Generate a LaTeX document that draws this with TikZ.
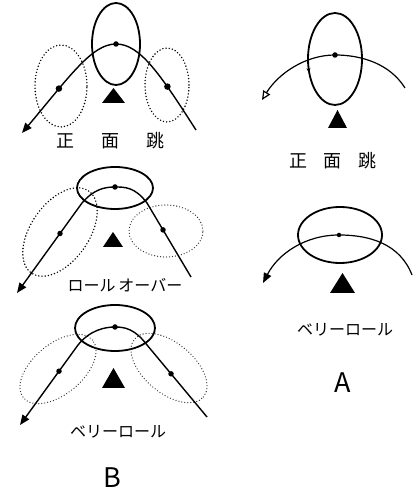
\documentclass[tikz,border=0pt]{standalone}
\usepackage{fontspec}
\newfontfamily\jpfont{Noto Sans CJK JP}
\usetikzlibrary{arrows.meta, decorations.markings}

\begin{document}
\begin{tikzpicture}[x=1pt, y=1pt,
    solidloop/.style={draw, line width=1.8pt},
    dotloop/.style={draw, line width=1.6pt, line cap=round, dash pattern=on 0pt off 3.2pt},
    faintloop/.style={draw, line width=1.3pt, line cap=round, dash pattern=on 0pt off 3pt, black!80},
    jump/.style={line width=1.4pt},
    pit/.style={circle, fill, inner sep=0pt, minimum size=5.5pt},
    jplabel/.style={font=\jpfont\fontsize{16}{16}\selectfont},
    kanji/.style={font=\jpfont\fontsize{18}{18}\selectfont},
    tag/.style={font=\jpfont\fontsize{27}{27}\selectfont},
    headfill/.style={-{Triangle[length=10pt, width=8pt]}},
    headopen/.style={-{Triangle[open, length=9pt, width=8pt, line width=1.2pt]}}]
    \useasboundingbox (0,0) rectangle (419,494);

    % B: 正面跳
    \draw[solidloop] (116,450) ellipse [x radius=24pt, y radius=41pt];
    \draw[dotloop] (61,408) ellipse [x radius=26pt, y radius=41pt];
    \draw[dotloop] (167,409) ellipse [x radius=22pt, y radius=37pt];
    \fill (102,391) -- (125,391) -- (113.5,406) -- cycle;
    \coordinate (p1s) at (196,364);
    \coordinate (p1e) at (22,361);
    \node[pit] (p1top) at (116,450) {};
    \node[pit, minimum size=6.5pt] (p1r) at (167.4,407.4) {};
    \node[pit, minimum size=6.5pt] (p1l) at (58.9,405.4) {};
    \draw[jump, headfill] (p1s) .. controls (160,420) and (140,450) .. (p1top.center)
        .. controls (92,450) and (70,418) .. (p1e);
    \node[kanji] (t1) at (110,353) {正\hspace{1.5em}面\hspace{1.5em}跳};

    % B: ロールオーバー
    \draw[solidloop] (115,306) ellipse [x radius=38pt, y radius=21pt];
    \draw[dotloop, rotate around={55:(60,262)}] (60,262) ellipse [x radius=50pt, y radius=29pt];
    \draw[faintloop] (166,263) ellipse [x radius=37pt, y radius=26pt];
    \fill (103,247) -- (123,247) -- (113,262) -- cycle;
    \coordinate (p2s) at (191,217);
    \coordinate (p2rb) at (147,291);
    \coordinate (p2lb) at (82,291);
    \coordinate (p2e) at (17,201);
    \node[pit] (p2top) at (115,307) {};
    \node[pit] (p2r) at (163,264.1) {};
    \node[pit] (p2l) at (60,260.5) {};
    \draw[jump, headfill] (p2s) -- (p2rb) .. controls (135,307) and (125,307) .. (p2top.center)
        .. controls (105,307) and (94,305) .. (p2lb) -- (p2e);
    \node[jplabel] (t2) at (125,209) {ロール\,オーバー};

    % B: ベリーロール
    \draw[solidloop] (115,166) ellipse [x radius=40pt, y radius=23pt];
    \draw[faintloop, rotate around={40:(58,125)}] (58,125) ellipse [x radius=45pt, y radius=25pt];
    \draw[faintloop, rotate around={-40:(169,126)}] (169,126) ellipse [x radius=45pt, y radius=25pt];
    \fill (102,106) -- (125,106) -- (113.5,126) -- cycle;
    \coordinate (p3s) at (207,77);
    \coordinate (p3rb) at (147,149);
    \coordinate (p3lb) at (78,149);
    \coordinate (p3e) at (20,69);
    \node[pit] (p3top) at (115,167) {};
    \node[pit] (p3r) at (171,120.2) {};
    \node[pit] (p3l) at (59,122.8) {};
    \draw[jump, headfill] (p3s) -- (p3rb) .. controls (135,165) and (125,167) .. (p3top.center)
        .. controls (105,167) and (90,164) .. (p3lb) -- (p3e);
    \node[jplabel] (t3) at (118,62) {ベリーロール};
    \node[tag] (tB) at (112,16) {B};

    % A: 正面跳
    \draw[solidloop, postaction={decorate, decoration={markings,
        mark=at position 0.56 with {\arrow{Stealth[length=5pt, width=4pt]}}}}]
        (335,435) ellipse [x radius=27pt, y radius=46pt];
    \fill (328,366) -- (347,366) -- (337.5,384) -- cycle;
    \coordinate (pAs) at (405,406);
    \coordinate (pAe) at (262,394);
    \node[pit] (pAtop) at (335,439) {};
    \draw[jump, line width=1.2pt, headopen] (pAs) .. controls (390,430) and (362,439) .. (pAtop.center)
        .. controls (305,439) and (278,420) .. (pAe);
    \node[kanji] (t4) at (333,333) {正\hspace{0.9em}面\hspace{0.9em}跳};

    % A: ベリーロール
    \draw[solidloop] (340,259) ellipse [x radius=42pt, y radius=28pt];
    \fill (330,201) -- (355,201) -- (342.5,221) -- cycle;
    \coordinate (pBs) at (412,219);
    \coordinate (pBe) at (263,211);
    \node[pit, minimum size=4.5pt] (pBtop) at (339,259) {};
    \draw[jump, line width=1.2pt, headfill] (pBs) .. controls (400,250) and (370,259) .. (pBtop.center)
        .. controls (305,259) and (278,240) .. (pBe);
    \node[jplabel] (t5) at (345,164) {ベリーロール};
    \node[tag] (tA) at (343,111) {A};
\end{tikzpicture}
\end{document}
